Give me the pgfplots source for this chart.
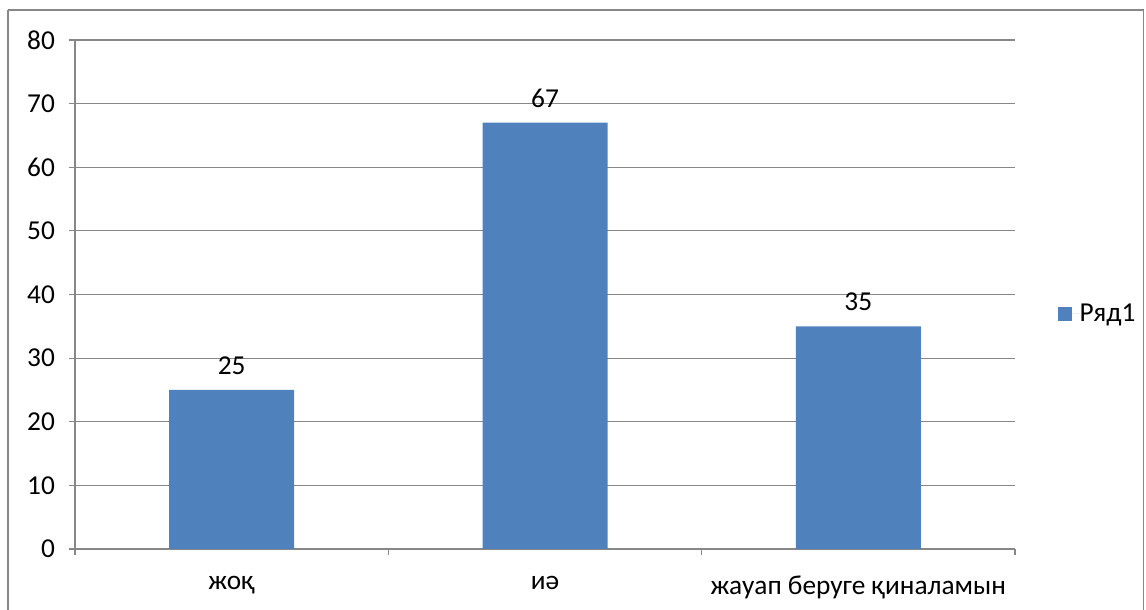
\documentclass[border=0pt]{standalone}
\usepackage{pgfplots}
\pgfplotsset{compat=1.18}
\usepackage{fontspec}
\setmainfont{Carlito}
\definecolor{barblue}{HTML}{4F81BD}
\definecolor{axgray}{HTML}{878787}
\begin{document}
\begin{tikzpicture}
\useasboundingbox (0,0) rectangle (859.5pt,457.5pt);
\draw[axgray, line width=0.9pt] (6pt,450pt) -- (857.6pt,450pt) -- (857.6pt,-5pt);
\draw[axgray, line width=0.9pt] (6pt,450pt) -- (6pt,-5pt);
\begin{axis}[
  at={(56.25pt,45.75pt)}, anchor=origin,
  scale only axis, width=705pt, height=381.75pt,
  xmin=0.5, xmax=3.5, ymin=0, ymax=80,
  ytick={0,10,...,80},
  xtick={0.5,1.5,2.5,3.5}, xticklabels={},
  extra x ticks={1,2,3},
  extra x tick labels={жоқ,иә,жауап беруге қиналамын},
  extra x tick style={major tick length=0pt, grid=none,
     xticklabel style={yshift=-17pt}},
  axis x line*=bottom, axis y line*=left,
  axis line style={axgray, line width=0.9pt},
  ymajorgrids, grid style={axgray, line width=0.9pt},
  major tick length=4.5pt,
  tick style={axgray, line width=0.9pt},
  xtick align=outside, ytick align=outside,
  tick label style={font=\fontsize{20.5}{23}\selectfont, text=black},
  yticklabel style={xshift=-7pt},
  /pgf/number format/assume math mode=true,
  ybar, bar width=93.75pt,
  nodes near coords,
  nodes near coords style={font=\fontsize{20.5}{23}\selectfont, text=black, yshift=8pt},
  legend style={at={(1.045,0.4617)}, anchor=west, draw=none, fill=none,
     font=\fontsize{20.5}{23}\selectfont, inner sep=0pt,
     nodes={inner sep=0pt}},
  legend image code/.code={\fill[#1] (0pt,-5.25pt) rectangle (10.5pt,5.25pt);
     \path (0pt,0pt) -- (16.5pt,0pt);},
  clip=false,
]
\addplot[fill=barblue, draw=none] coordinates {(1,25) (2,67) (3,35)};
\legend{Ряд1}
\end{axis}
\end{tikzpicture}
\end{document}
